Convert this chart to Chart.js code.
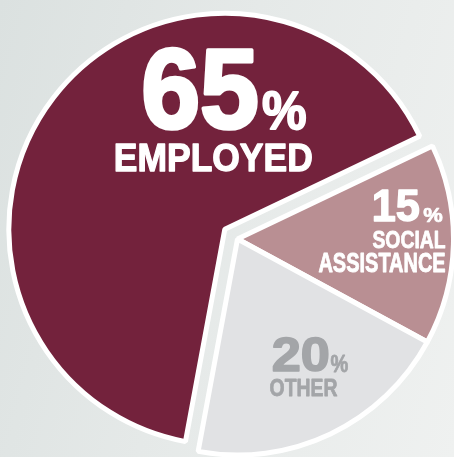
<!DOCTYPE html>
<html><head><meta charset="utf-8">
<script src="https://cdn.jsdelivr.net/npm/chart.js@4.4.1/dist/chart.umd.min.js"></script>
<style>
html,body{margin:0;padding:0;width:454px;height:457px;overflow:hidden;}
body{background:linear-gradient(105deg,#dbe1e0 0%,#e5e9e8 45%,#eff1f0 100%);}
#wrap{position:relative;width:454px;height:457px;}
</style></head><body><div id="wrap"><canvas id="c"></canvas></div>
<script>
// ---- data ----
const categories = ['SOCIAL ASSISTANCE', 'OTHER', 'EMPLOYED'];
const values = [15, 20, 65];
const sliceColors = ['#b98f93', '#e1e2e4', '#73223c'];
const textColors = ['#ffffff', '#a3a5a8', '#ffffff'];
const nameLines = [['SOCIAL', 'ASSISTANCE'], ['OTHER'], ['EMPLOYED']];
const explodeDist = [0, 0, 16];

// ---- label layout (pixels: x, baseline, cap height, ink width, align) ----
const labelLayout = [
  { num: [373, 222, 32, 47], pct: [423, 222, 15, 20], lines: [[446, 248, 18, 74], [446, 272, 20, 128]], align: 'right' },
  { num: [272, 372, 35, 57], pct: [330, 372, 17, 18], lines: [[270, 396, 18, 68]], align: 'left' },
  { num: [143, 130, 83, 115], pct: [262, 130, 40, 45], lines: [[115, 172, 29, 197]], align: 'left' }
];

const FONT = '"Liberation Sans", Arial, sans-serif';
const HEAVY = 0.045; // extra stroke relative to cap height to mimic a black weight

function drawFit(ctx, text, x, baseline, cap, width, align, color) {
  const lw = Math.max(0.6, cap * HEAVY);
  const capIn = cap - lw;
  const widthIn = width - lw;
  ctx.font = `bold 100px ${FONT}`;
  const m0 = ctx.measureText(text);
  const size = capIn * 100 / m0.actualBoundingBoxAscent;
  ctx.font = `bold ${size}px ${FONT}`;
  const m = ctx.measureText(text);
  const inkL = m.actualBoundingBoxLeft;
  const inkW = m.actualBoundingBoxRight + m.actualBoundingBoxLeft;
  const sx = widthIn / inkW;
  const left = (align === 'right' ? x - width : x) + lw / 2;
  ctx.save();
  ctx.translate(left, baseline - lw / 2);
  ctx.scale(sx, 1);
  ctx.fillStyle = color;
  ctx.strokeStyle = color;
  ctx.lineWidth = lw;
  ctx.lineJoin = 'round';
  ctx.textAlign = 'left';
  ctx.textBaseline = 'alphabetic';
  ctx.fillText(text, inkL, 0);
  ctx.strokeText(text, inkL, 0);
  ctx.restore();
}

const explodePlugin = {
  id: 'explode',
  beforeDatasetsDraw(chart) {
    const meta = chart.getDatasetMeta(0);
    meta.data.forEach((arc, i) => {
      const d = explodeDist[i];
      if (!d) return;
      const mid = (arc.startAngle + arc.endAngle) / 2;
      arc._dx = Math.cos(mid) * d; arc._dy = Math.sin(mid) * d;
      arc.x += arc._dx; arc.y += arc._dy;
    });
  },
  afterDatasetsDraw(chart) {
    const meta = chart.getDatasetMeta(0);
    meta.data.forEach((arc) => {
      if (arc._dx !== undefined) { arc.x -= arc._dx; arc.y -= arc._dy; delete arc._dx; delete arc._dy; }
    });
  }
};

const labelPlugin = {
  id: 'sliceLabels',
  afterDraw(chart) {
    const ctx = chart.ctx;
    values.forEach((v, i) => {
      const L = labelLayout[i];
      const c = textColors[i];
      drawFit(ctx, String(v), L.num[0], L.num[1], L.num[2], L.num[3], 'left', c);
      drawFit(ctx, '%', L.pct[0], L.pct[1], L.pct[2], L.pct[3], 'left', c);
      nameLines[i].forEach((t, k) => {
        const p = L.lines[k];
        drawFit(ctx, t, p[0], p[1], p[2], p[3], L.align, c);
      });
    });
  }
};

new Chart(document.getElementById('c'), {
  type: 'pie',
  data: {
    labels: categories,
    datasets: [{
      data: values,
      backgroundColor: sliceColors,
      borderColor: '#ffffff',
      borderWidth: 5,
      clip: false
    }]
  },
  options: {
    responsive: true,
    maintainAspectRatio: false,
    animation: false,
    events: [],
    rotation: 64.5,
    radius: 216,
    layout: { padding: { left: 21, top: 21, right: 0, bottom: 0 } },
    plugins: { legend: { display: false }, tooltip: { enabled: false } }
  },
  plugins: [explodePlugin, labelPlugin]
});
</script>
</body></html>
